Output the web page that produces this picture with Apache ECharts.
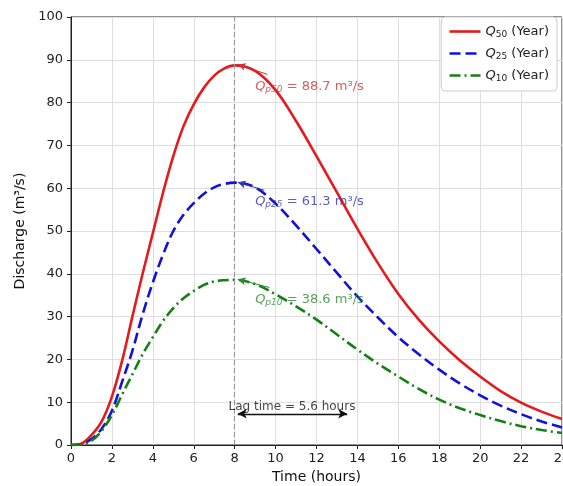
<!DOCTYPE html>
<html>
<head>
<meta charset="utf-8">
<script src="https://cdn.jsdelivr.net/npm/echarts@6/dist/echarts.min.js"></script>
<style>html,body{margin:0;padding:0;background:#fff}#c{width:563px;height:486px}</style>
</head>
<body>
<div id="c"></div>
<script>
const hours = [0,0.5,1,1.5,2,2.5,3,3.5,4,4.5,5,5.5,6,6.5,7,7.5,8,9,10,11,12,13,14,15,16,17,18,19,20,21,22,23,24];
const q50 = [0,0.3,2.3,5.5,11.3,19.7,30,40,49.5,59,67.5,74.5,79.6,83.5,86.3,88,88.7,87.4,82.9,75.7,67.5,59,50.5,42.5,35.3,29.3,24.2,19.8,16,12.6,9.9,7.8,6.1];
const q25 = [0,0.2,1.4,3.8,8,14.8,22,30.5,38,44.5,50,53.8,56.5,58.7,60.2,61,61.3,60.2,56.4,51.3,45.8,40.2,34.7,29.8,25.2,21.2,17.6,14.4,11.6,9.2,7.2,5.5,4.1];
const q10 = [0,0.1,1,3.3,7,11.8,16.5,21.2,25.2,29,32,34.3,36,37.4,38.2,38.5,38.6,37.6,35.2,32.4,29.3,25.8,22.3,19,16,13.1,10.6,8.6,7,5.6,4.4,3.5,2.8];
const seriesNames = ['Q50','Q25','Q10'];
const peakLabels = ['p50 = 88.7 m³/s','p25 = 61.3 m³/s','p10 = 38.6 m³/s'];
const peakTextPos = [[9.0,83.8],[9.0,56.9],[9.0,34.0]];
const peakArrowFrom = [[9.6,86.6],[9.45,59.5],[9.7,36.8]];
const peakArrowTo = [[8.15,88.9],[8.15,61.4],[8.15,38.7]];
const lagText = 'Lag time = 5.6 hours';
const lagTextPos = [10.8, 8.9];
const lagArrow = [[8.15,7.3],[13.5,7.3]];
const peakTime = 8;

const colors = ['#e41a1c','#1111dd','#138013'];
const textColors = ['#cf3333','#3333aa','#2f8a2f'];
const dashes = ['solid',[11,5],[11,4,2,4]];
const F = 'DejaVu Sans';

const chart = echarts.init(document.getElementById('c'), null, {renderer:'canvas'});
const mk = (arr) => hours.map((h,i)=>[h,arr[i]]);
const lines = [q50,q25,q10].map((arr,i)=>({
  name: seriesNames[i], type:'line', data: mk(arr), smooth:0.35,
  symbol:'none', showSymbol:false,
  lineStyle:{color:colors[i], width:2.6, type:dashes[i]},
  itemStyle:{color:colors[i]}, z:3
}));

const labelSeries = {
  type:'scatter', symbolSize:0, silent:true, z:5,
  data: peakTextPos.map((p,i)=>({
    value:p,
    label:{show:true, position:'right', distance:0,
      formatter:'{q|Q}{s|'+peakLabels[i].split(' ')[0]+'}{n| '+peakLabels[i].split(' ').slice(1).join(' ')+'}',
      rich:{
        q:{fontFamily:F,fontStyle:'italic',fontSize:13,color:textColors[i],verticalAlign:'middle'},
        s:{fontFamily:F,fontStyle:'italic',fontSize:9,color:textColors[i],padding:[7,0,0,0],verticalAlign:'middle'},
        n:{fontFamily:F,fontSize:13,color:textColors[i],verticalAlign:'middle'}
      }}
  })).concat([{
    value:lagTextPos,
    label:{show:true, position:'inside', formatter:lagText, fontFamily:F, fontSize:12, color:'#111'}
  }]),
  markLine:{
    silent:true, animation:false,
    label:{show:false},
    data: peakArrowFrom.map((f,i)=>[
      {coord:f, symbol:'none', lineStyle:{color:textColors[i], width:1, type:'solid'}},
      {coord:peakArrowTo[i], symbol:'arrow', symbolSize:[6,8]}
    ]).concat([
      [{coord:lagArrow[0], symbol:'arrow', symbolSize:[7,9], lineStyle:{color:'#111', width:1.3, type:'solid'}},
       {coord:lagArrow[1], symbol:'arrow', symbolSize:[7,9]}],
      [{coord:[peakTime,0], symbol:'none', lineStyle:{color:'#999', width:1.2, type:[5,3]}},
       {coord:[peakTime,100], symbol:'none'}]
    ])
  }
};

const option = {
  animation:false,
  backgroundColor:'#fff',
  grid:{left:71, right:1, top:17, bottom:41, show:true, borderColor:'#222', borderWidth:1,
    backgroundColor:'transparent', containLabel:false, outerBoundsMode:'none'},
  xAxis:{type:'value', min:0, max:24, interval:2,
    name:'Time (hours)', nameLocation:'middle', nameGap:24,
    nameTextStyle:{fontFamily:F, fontSize:14, color:'#111'},
    axisLine:{show:true, onZero:false, lineStyle:{color:'#222'}},
    axisTick:{show:true, length:4, lineStyle:{color:'#222'}},
    axisLabel:{fontFamily:F, fontSize:13, color:'#222', margin:7, hideOverlap:false},
    splitLine:{show:true, lineStyle:{color:'#dedede', width:1}}
  },
  yAxis:{type:'value', min:0, max:100, interval:10,
    name:'Discharge (m³/s)', nameLocation:'middle', nameGap:40,
    nameTextStyle:{fontFamily:F, fontSize:14, color:'#111'},
    axisLine:{show:true, onZero:false, lineStyle:{color:'#222'}},
    axisTick:{show:true, length:4, lineStyle:{color:'#222'}},
    axisLabel:{fontFamily:F, fontSize:13, color:'#222', margin:8},
    splitLine:{show:true, lineStyle:{color:'#dedede', width:1}}
  },
  legend:{
    data:seriesNames, orient:'vertical', right:6, top:17,
    padding:[8,8,8,7], itemGap:8, itemWidth:31, itemHeight:16,
    backgroundColor:'#fff', borderColor:'#cccccc', borderWidth:1, borderRadius:4,
    itemStyle:{color:'rgba(0,0,0,0)', borderColor:'rgba(0,0,0,0)', borderWidth:0},
    lineStyle:{width:2.6},
    formatter:(n)=>'{q|Q}{s|'+n.slice(1)+'}{n| (Year)}',
    textStyle:{rich:{
      q:{fontFamily:F,fontStyle:'italic',fontSize:13,color:'#222'},
      s:{fontFamily:F,fontSize:9,color:'#222',padding:[6,0,0,0]},
      n:{fontFamily:F,fontSize:13,color:'#222'}
    }}
  },
  series: lines.concat([labelSeries])
};
chart.setOption(option);
</script>
</body>
</html>
